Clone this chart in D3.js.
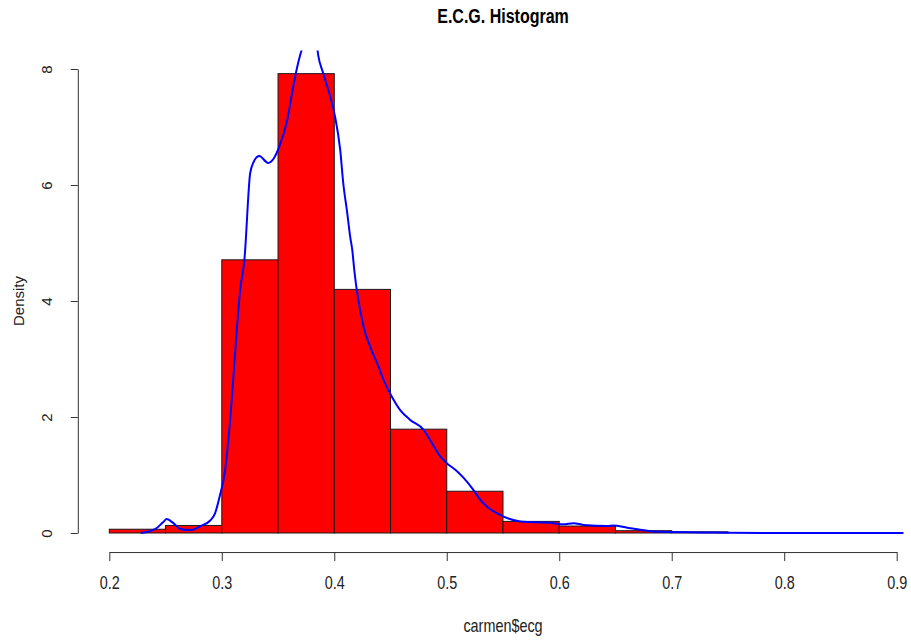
<!DOCTYPE html>
<html>
<head>
<meta charset="utf-8">
<script src="https://cdn.jsdelivr.net/npm/d3@7"></script>
<style>
  html, body { margin: 0; padding: 0; background: #ffffff; }
  svg { display: block; }
</style>
</head>
<body>
<svg id="chart" width="911" height="640"></svg>
<script>
// Histogram bins (left edge, right edge) and their densities
const binStarts = [0.20, 0.25, 0.30, 0.35, 0.40, 0.45, 0.50, 0.55, 0.60, 0.65, 0.70, 0.75, 0.80, 0.85];
const binEnds   = [0.25, 0.30, 0.35, 0.40, 0.45, 0.50, 0.55, 0.60, 0.65, 0.70, 0.75, 0.80, 0.85, 0.90];
const binDensity = [0.065, 0.13, 4.71, 7.92, 4.20, 1.79, 0.72, 0.20, 0.12, 0.04, 0.02, 0, 0, 0];

// Kernel density estimate of carmen$ecg
const kdeX = [0.228, 0.241, 0.248, 0.251, 0.257, 0.263, 0.272, 0.281, 0.290, 0.294, 0.298,
              0.303, 0.3074, 0.3127, 0.3163, 0.3201, 0.3252, 0.3279, 0.3333, 0.3413, 0.3466,
              0.3511, 0.3582, 0.3625, 0.367, 0.3697, 0.3741, 0.3794, 0.3839, 0.3857, 0.3901,
              0.3964, 0.4008, 0.4053, 0.408, 0.4115, 0.4142, 0.416, 0.4178, 0.426, 0.4319,
              0.4393, 0.4438, 0.4512, 0.4586, 0.4675, 0.4794, 0.4868, 0.4942, 0.5002, 0.5076,
              0.515, 0.5238, 0.5298, 0.536, 0.5476, 0.5654, 0.5948, 0.6037, 0.6126, 0.6215,
              0.6429, 0.6481, 0.6606, 0.6784, 0.69, 0.7256, 0.7497, 0.80, 0.906];
const kdeY = [0, 0.07, 0.19, 0.24, 0.17, 0.07, 0.05, 0.12, 0.22, 0.34, 0.62,
              1.09, 1.95, 3.33, 4.19, 4.71, 6.2, 6.38, 6.5, 6.38, 6.47,
              6.66, 7.12, 7.59, 8.03, 8.24, 8.5, 8.62, 8.5, 8.24, 7.93,
              7.52, 7.17, 6.6, 6.03, 5.52, 5.1, 4.88, 4.53, 3.56, 3.21,
              2.87, 2.64, 2.35, 2.12, 1.95, 1.78, 1.55, 1.32, 1.20, 1.09,
              0.95, 0.74, 0.57, 0.45, 0.31, 0.20, 0.17, 0.15, 0.17, 0.14,
              0.12, 0.13, 0.09, 0.04, 0.02, 0.01, 0.005, 0, 0];

const xTicks = [0.2, 0.3, 0.4, 0.5, 0.6, 0.7, 0.8, 0.9];
const yTicks = [0, 2, 4, 6, 8];

const chartTitle = "E.C.G. Histogram";
const xTitle = "carmen$ecg";
const yTitle = "Density";

const svg = d3.select("#chart");

const x = d3.scaleLinear().domain([0.2, 0.9]).range([109.3, 896.7]);
const y = d3.scaleLinear().domain([0, 8]).range([533, 69]);

// plotting region (extends 4% past the data range, as R does)
const usrX = [0.172, 0.928];
const usrY = [-0.32, 8.32];

svg.append("defs").append("clipPath").attr("id", "plotClip")
  .append("rect")
  .attr("x", x(usrX[0])).attr("y", y(usrY[1]))
  .attr("width", x(usrX[1]) - x(usrX[0]))
  .attr("height", y(usrY[0]) - y(usrY[1]));

const plot = svg.append("g").attr("clip-path", "url(#plotClip)");

// bars
const bins = binStarts.map((s, i) => ({ x0: s, x1: binEnds[i], d: binDensity[i] }));
plot.selectAll("rect.bar").data(bins).enter().append("rect")
  .attr("class", "bar")
  .attr("x", d => x(d.x0))
  .attr("y", d => y(d.d))
  .attr("width", d => x(d.x1) - x(d.x0))
  .attr("height", d => y(0) - y(d.d))
  .attr("fill", "#ff0000")
  .attr("stroke", "#1a1a1a")
  .attr("stroke-width", 1);

// density curve
const kde = kdeX.map((v, i) => [v, kdeY[i]]);
plot.append("path")
  .datum(kde)
  .attr("fill", "none")
  .attr("stroke", "#0000ff")
  .attr("stroke-width", 2)
  .attr("stroke-linejoin", "round")
  .attr("d", d3.line().x(d => x(d[0])).y(d => y(d[1])).curve(d3.curveMonotoneX));

// x axis
const xAxisG = svg.append("g")
  .attr("transform", `translate(0,${y(usrY[0]) + 0.5})`)
  .call(d3.axisBottom(x).tickValues(xTicks).tickSize(9).tickSizeOuter(0)
        .tickFormat(d3.format(".1f")));
xAxisG.select(".domain").attr("stroke", "#333");
xAxisG.selectAll(".tick line").attr("stroke", "#333");
xAxisG.selectAll(".tick text")
  .attr("y", 0).attr("dy", null)
  .attr("transform", "translate(0,37) scale(0.8,1)")
  .attr("font-family", "'Liberation Sans', Arial, sans-serif")
  .attr("font-size", 18)
  .attr("fill", "#222");

// y axis
const yAxisG = svg.append("g")
  .attr("transform", `translate(${x(usrX[0])},0)`)
  .call(d3.axisLeft(y).tickValues(yTicks).tickSize(7).tickSizeOuter(0));
yAxisG.select(".domain").attr("stroke", "#333");
yAxisG.selectAll(".tick line").attr("stroke", "#333");
yAxisG.selectAll(".tick text")
  .attr("x", null).attr("dy", null)
  .attr("text-anchor", "middle")
  .attr("transform", "translate(-31,0) rotate(-90) translate(0,5)")
  .attr("font-family", "'Liberation Sans', Arial, sans-serif")
  .attr("font-size", 15)
  .attr("fill", "#222");

// titles
svg.append("text")
  .attr("transform", `translate(${(x(usrX[0]) + x(usrX[1])) / 2},23) scale(0.8,1)`)
  .attr("text-anchor", "middle")
  .attr("font-family", "'Liberation Sans', Arial, sans-serif")
  .attr("font-weight", "bold")
  .attr("font-size", 20)
  .attr("fill", "#000")
  .text(chartTitle);

svg.append("text")
  .attr("transform", `translate(${(x(usrX[0]) + x(usrX[1])) / 2},632) scale(0.8,1)`)
  .attr("text-anchor", "middle")
  .attr("font-family", "'Liberation Sans', Arial, sans-serif")
  .attr("font-size", 18)
  .attr("fill", "#222")
  .text(xTitle);

svg.append("text")
  .attr("transform", `translate(24,${(y(usrY[0]) + y(usrY[1])) / 2}) rotate(-90)`)
  .attr("text-anchor", "middle")
  .attr("font-family", "'Liberation Sans', Arial, sans-serif")
  .attr("font-size", 15)
  .attr("fill", "#222")
  .text(yTitle);
</script>
</body>
</html>
